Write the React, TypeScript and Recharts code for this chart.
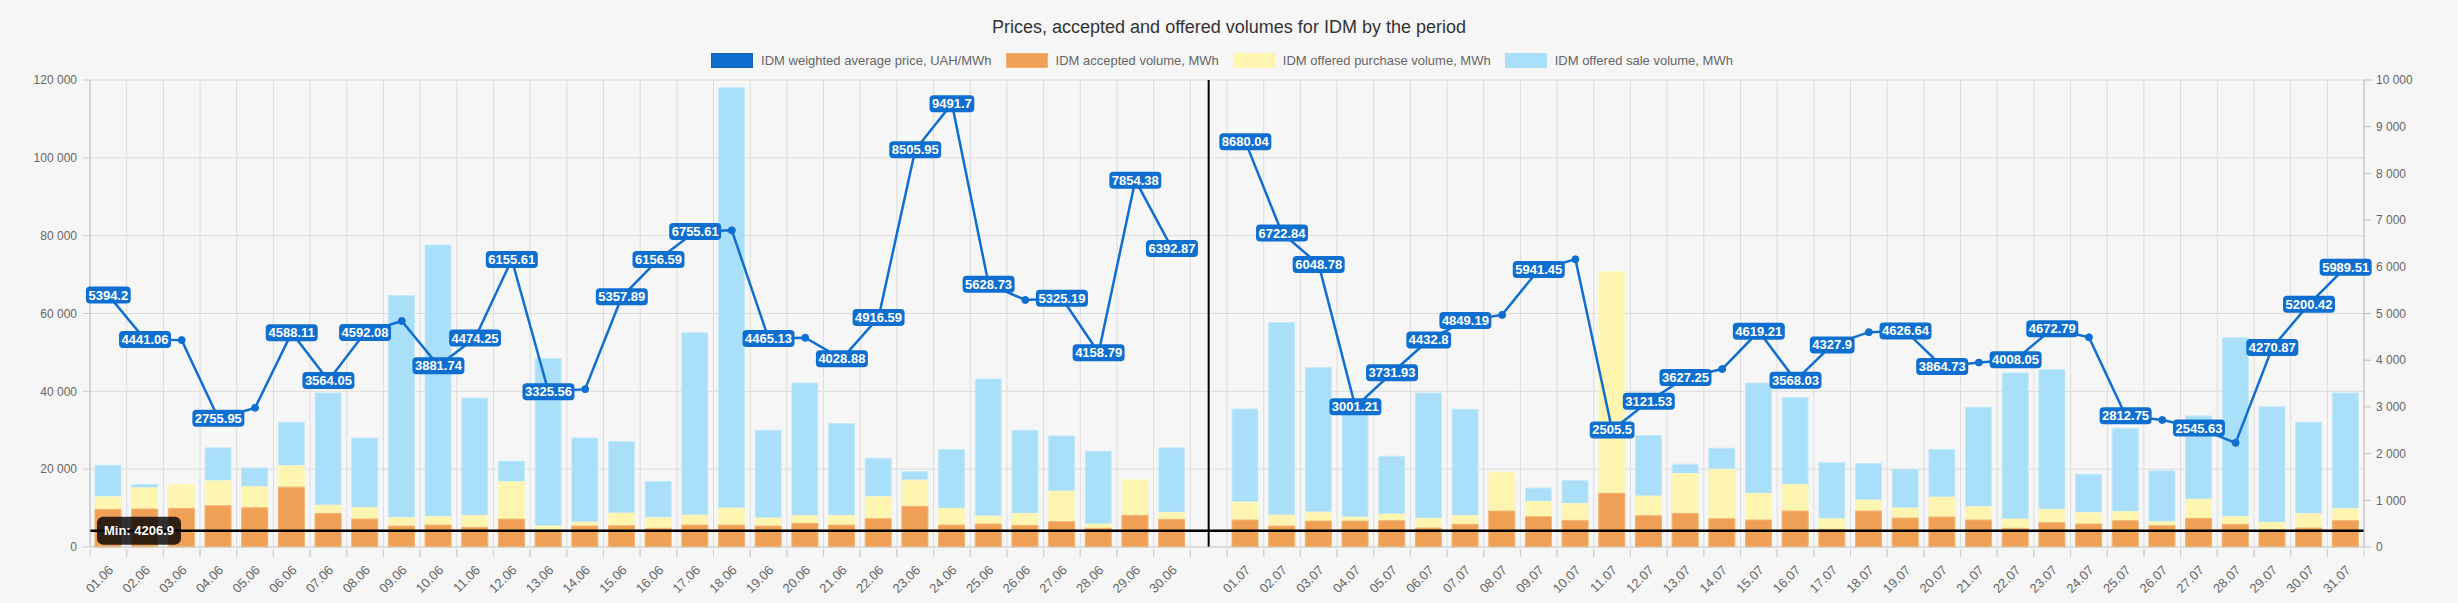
import React from 'react';
import { ComposedChart, Bar, Line, XAxis, YAxis, CartesianGrid, ReferenceLine, LabelList } from 'recharts';

// categories: June, an empty slot, July
const dates = [
  '01.06', '02.06', '03.06', '04.06', '05.06', '06.06', '07.06', '08.06', '09.06', '10.06',
  '11.06', '12.06', '13.06', '14.06', '15.06', '16.06', '17.06', '18.06', '19.06', '20.06',
  '21.06', '22.06', '23.06', '24.06', '25.06', '26.06', '27.06', '28.06', '29.06', '30.06',
  ' ',
  '01.07', '02.07', '03.07', '04.07', '05.07', '06.07', '07.07', '08.07', '09.07', '10.07',
  '11.07', '12.07', '13.07', '14.07', '15.07', '16.07', '17.07', '18.07', '19.07', '20.07',
  '21.07', '22.07', '23.07', '24.07', '25.07', '26.07', '27.07', '28.07', '29.07', '30.07', '31.07',
];

// IDM weighted average price, UAH/MWh
const prices = [
  5394.2, 4441.06, 4430, 2755.95, 2980, 4588.11, 3564.05, 4592.08, 4840, 3881.74,
  4474.25, 6155.61, 3325.56, 3380, 5357.89, 6156.59, 6755.61, 6780, 4465.13, 4480,
  4028.88, 4916.59, 8505.95, 9491.7, 5628.73, 5290, 5325.19, 4158.79, 7854.38, 6392.87,
  null,
  8680.04, 6722.84, 6048.78, 3001.21, 3731.93, 4432.8, 4849.19, 4970, 5941.45, 6160,
  2505.5, 3121.53, 3627.25, 3810, 4619.21, 3568.03, 4327.9, 4600, 4626.64, 3864.73,
  3950, 4008.05, 4672.79, 4490, 2812.75, 2720, 2545.63, 2230, 4270.87, 5200.42, 5989.51,
];

// IDM accepted volume, MWh
const accepted = [
  9660, 9750, 9920, 10600, 10080, 15380, 8630, 7180, 5380, 5640,
  5040, 7180, 4206.9, 5380, 5470, 4790, 5640, 5640, 5380, 6070,
  5640, 7260, 10430, 5640, 5900, 5550, 6490, 4790, 8120, 7100,
  null,
  6920, 5380, 6660, 6660, 6750, 4870, 5810, 9230, 7780, 6840,
  13800, 8030, 8630, 7260, 6920, 9230, 4530, 9230, 7440, 7690,
  6920, 4790, 6240, 5900, 6750, 5470, 7350, 5810, 4400, 4870, 6750,
];

// IDM offered purchase volume, MWh
const purchase = [
  12900, 15200, 16070, 17000, 15470, 20850, 10770, 10080, 7520, 7780,
  8120, 16750, 5380, 6400, 8720, 7520, 8200, 10000, 7440, 8030,
  8120, 12900, 17180, 9920, 7950, 8630, 14360, 5900, 17350, 8890,
  null,
  11540, 8200, 8970, 7690, 8460, 7350, 8030, 19230, 11720, 11200,
  70770, 13080, 18890, 20000, 13760, 16070, 7260, 12050, 10000, 12820,
  10340, 7180, 9660, 8800, 9060, 6490, 12300, 7780, 6320, 8540, 9830,
];

// IDM offered sale volume, MWh
const sale = [
  21000, 16070, 15000, 25460, 20330, 32050, 39570, 28030, 64600, 77600,
  38290, 22050, 48460, 28030, 27100, 16840, 55050, 118000, 30000, 42130,
  31710, 22820, 19400, 25050, 43160, 30000, 28540, 24600, 16000, 25460,
  null,
  35460, 57700, 46070, 35000, 23330, 39570, 35380, 18000, 15130, 17100,
  30000, 28640, 21280, 25380, 42130, 38460, 21710, 21450, 20000, 25050,
  35900, 44700, 45560, 18720, 30510, 19570, 33660, 53760, 36070, 32050, 39570,
];

// price labels that the original hides because they overlap
const hiddenPriceLabels = [
  '03.06', '05.06', '09.06', '14.06', '18.06', '20.06', '26.06',
  '08.07', '10.07', '14.07', '18.07', '21.07', '24.07', '26.07', '28.07',
];

const volumeTicks = [0, 20000, 40000, 60000, 80000, 100000, 120000];
const priceTicks = [0, 1000, 2000, 3000, 4000, 5000, 6000, 7000, 8000, 9000, 10000];

const GAP = ' ';
const minAccepted = Math.min(...accepted.filter((v): v is number => v != null));

const data = dates.map((date, i) => ({
  date,
  price: prices[i],
  accepted: accepted[i],
  purchase: purchase[i],
  sale: sale[i],
}));

const W = 2458;
const H = 603;
const LEFT_W = 90;
const RIGHT_W = 94;
const PLOT_W = W - LEFT_W - RIGHT_W;
const BAND = PLOT_W / dates.length;

const BLUE = '#0f6fd0';
const ORANGE = '#efa055';
const YELLOW = '#fdf5b0';
const SKY = '#a9dff8';
const FONT = '"Liberation Sans", Arial, sans-serif';

const fmt = (v: number) => String(v).replace(/\B(?=(\d{3})+(?!\d))/g, ' ');

const DateTick = (props: any) => {
  const { x, y, payload } = props;
  return (
    <g>
      <line x1={x - BAND / 2} x2={x - BAND / 2} y1={y - 10} y2={y - 2} stroke="#d0d0d0" />
      <line x1={x + BAND / 2} x2={x + BAND / 2} y1={y - 10} y2={y - 2} stroke="#d0d0d0" />
      <text
        transform={`translate(${x + 3},${y + 9}) rotate(-45)`}
        textAnchor="end"
        dy={4}
        fontSize={13}
        fill="#666"
        fontFamily={FONT}
      >
        {payload.value}
      </text>
    </g>
  );
};

const textWidth = (s: string, size: number) => {
  let w = 0;
  for (const c of s) w += c === '.' ? 0.278 : 0.556;
  return w * size;
};

const PriceLabel = (props: any) => {
  const { x, y, value, index } = props;
  if (value == null || hiddenPriceLabels.includes(dates[index])) return null;
  const text = String(value);
  const w = textWidth(text, 13) + 5;
  const h = 17;
  return (
    <g>
      <rect x={x - w / 2} y={y - h / 2} width={w} height={h} rx={4} fill={BLUE} />
      <text x={x} y={y} dy={4.5} textAnchor="middle" fontSize={13} fontWeight="bold" fill="#fff" fontFamily={FONT}>
        {text}
      </text>
    </g>
  );
};

const MinLabel = (props: any) => {
  const { viewBox } = props;
  const x = viewBox.x + 7;
  const y = viewBox.y;
  return (
    <g>
      <rect x={x} y={y - 14} width={84} height={28} rx={6} fill="rgba(0,0,0,0.8)" />
      <text x={x + 42} y={y} dy={4.5} textAnchor="middle" fontSize={13} fontWeight="bold" fill="#fff" fontFamily={FONT}>
        {`Min: ${minAccepted}`}
      </text>
    </g>
  );
};

const legendItems = [
  { name: 'IDM weighted average price, UAH/MWh', color: BLUE, border: '#1a63b0' },
  { name: 'IDM accepted volume, MWh', color: ORANGE, border: '#f2b274' },
  { name: 'IDM offered purchase volume, MWh', color: YELLOW, border: '#fdf5b0' },
  { name: 'IDM offered sale volume, MWh', color: SKY, border: '#a9dff8' },
];

export default function App() {
  return (
    <div style={{ position: 'relative', width: W, height: H, background: '#f6f6f6', fontFamily: FONT }}>
      <style>{'body { margin: 0; background: #f6f6f6; }'}</style>
      <div
        style={{
          position: 'absolute', top: 17, left: 0, width: W, textAlign: 'center',
          fontSize: 18, color: '#333',
        }}
      >
        Prices, accepted and offered volumes for IDM by the period
      </div>
      <div
        style={{
          position: 'absolute', top: 53, left: 0, width: W, display: 'flex',
          justifyContent: 'center', alignItems: 'center', fontSize: 13, color: '#666',
        }}
      >
        {legendItems.map((it) => (
          <div key={it.name} style={{ display: 'flex', alignItems: 'center', marginRight: 14 }}>
            <span
              style={{
                display: 'inline-block', width: 40, height: 13, background: it.color,
                border: `1px solid ${it.border}`, marginRight: 8,
              }}
            />
            <span>{it.name}</span>
          </div>
        ))}
      </div>
      <ComposedChart
        width={W}
        height={H}
        data={data}
        margin={{ top: 80, right: 0, bottom: 0, left: 0 }}
        style={{ fontFamily: FONT }}
      >
        <CartesianGrid
          xAxisId="a"
          yAxisId="left"
          stroke="#dcdcdc"
          verticalCoordinatesGenerator={({ offset }: any) =>
            dates.map((_, i) => offset.left + i * (offset.width / dates.length)).concat(offset.left + offset.width)
          }
        />
        <XAxis
          xAxisId="a"
          dataKey="date"
          interval={0}
          height={H - 547}
          tickSize={10}
          tickMargin={2}
          tickLine={false}
          axisLine={{ stroke: '#cfcfcf' }}
          tick={<DateTick />}
        />
        <XAxis xAxisId="b" dataKey="date" hide />
        <XAxis xAxisId="c" dataKey="date" hide />
        <YAxis
          yAxisId="left"
          width={LEFT_W}
          domain={[0, 120000]}
          ticks={volumeTicks}
          tickFormatter={fmt}
          tickSize={7}
          tickMargin={6}
          tickLine={{ stroke: '#cfcfcf' }}
          axisLine={{ stroke: '#bdbdbd' }}
          tick={{ fill: '#666', fontSize: 12 }}
        />
        <YAxis
          yAxisId="right"
          orientation="right"
          width={RIGHT_W}
          domain={[0, 10000]}
          ticks={priceTicks}
          tickFormatter={fmt}
          tickSize={7}
          tickMargin={5}
          tickLine={{ stroke: '#bdbdbd' }}
          axisLine={{ stroke: '#bdbdbd' }}
          tick={{ fill: '#666', fontSize: 12 }}
        />
        <Bar xAxisId="c" yAxisId="left" dataKey="sale" fill={SKY} stroke="#c3e9fb" strokeWidth={1} barSize={26} isAnimationActive={false} />
        <Bar xAxisId="b" yAxisId="left" dataKey="purchase" fill={YELLOW} stroke="#fdf7c4" strokeWidth={1} barSize={26} isAnimationActive={false} />
        <Bar xAxisId="a" yAxisId="left" dataKey="accepted" fill={ORANGE} stroke="#f2b274" strokeWidth={1} barSize={26} isAnimationActive={false} />
        <ReferenceLine xAxisId="a" yAxisId="left" x={GAP} stroke="#000" strokeWidth={2} />
        <ReferenceLine xAxisId="a" yAxisId="left" y={minAccepted} stroke="#000" strokeWidth={2.5} label={<MinLabel />} />
        <Line
          xAxisId="a"
          yAxisId="right"
          type="linear"
          dataKey="price"
          stroke={BLUE}
          strokeWidth={2.5}
          dot={{ r: 3.5, fill: BLUE, stroke: BLUE, strokeWidth: 1 }}
          activeDot={false}
          connectNulls={false}
          isAnimationActive={false}
        >
          <LabelList dataKey="price" content={<PriceLabel />} />
        </Line>
      </ComposedChart>
    </div>
  );
}
